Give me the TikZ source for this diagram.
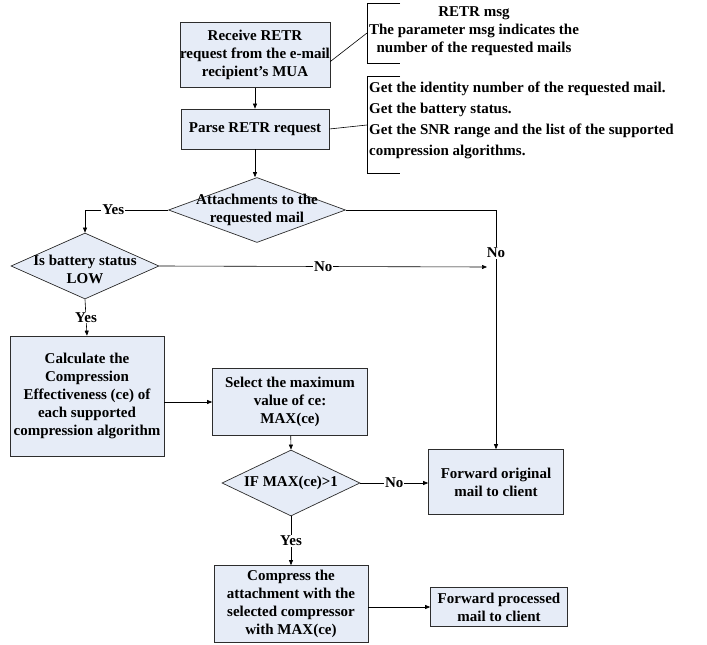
\documentclass[tikz,border=0pt]{standalone}
\usepackage{fontspec}
\setmainfont{Liberation Serif}
\usepackage{tikz}
\usetikzlibrary{positioning}
\usetikzlibrary{shapes.geometric,arrows.meta}

\definecolor{boxfill}{RGB}{230,236,247}
\definecolor{boxline}{RGB}{45,45,45}

\newcommand{\flowfont}{\fontsize{15}{18}\selectfont\bfseries}

\tikzset{
	flowbox/.style={draw=boxline, fill=boxfill, align=center, inner sep=0pt, line width=0.7pt, font=\flowfont},
	decision/.style={diamond, draw=boxline, fill=boxfill, inner sep=0pt, line width=0.7pt},
	dectext/.style={align=center, font=\flowfont, inner sep=0pt},
	flow/.style={draw=black, line width=0.6pt, -{Triangle[length=5pt,width=4pt]}},
	link/.style={draw=black, line width=0.6pt},
	answer/.style={fill=white, inner sep=1pt, font=\flowfont},
	note/.style={font=\flowfont, inner sep=0pt}
}

\begin{document}
\begin{tikzpicture}[x=1pt,y=-1pt]
	
	\useasboundingbox (0,0) rectangle (707,645);
	
	% main column of the flow chart
	\node[flowbox, minimum width=148pt, minimum height=65pt] (Recv) at (255,55)
		{Receive RETR\\request from the e-mail\\recipient’s MUA};
	\node[flowbox, minimum width=148pt, minimum height=40pt] (Parse) at (255,129)
		{Parse RETR request};
	\node[decision, minimum width=177pt, minimum height=65pt,
		label={[dectext]center:Attachments to the\\requested mail}] (Attach) at (257,210) {};
	\node[decision, minimum width=148pt, minimum height=66pt,
		label={[dectext, yshift=-3pt]center:Is battery status\\LOW}] (Battery) at (85,266) {};
	
	% lower part
	\node[flowbox, minimum width=154pt, minimum height=120pt] (Calc) at (87,396)
		{Calculate the\\Compression\\Effectiveness (ce) of\\each supported\\compression algorithm};
	\node[flowbox, minimum width=155pt, minimum height=67pt] (Select) at (290,402)
		{Select the maximum\\value of ce:\\MAX(ce)};
	\node[decision, minimum width=138pt, minimum height=66pt,
		label={[dectext]center:IF MAX(ce)>1}] (IfMax) at (291,483) {};
	\node[flowbox, minimum width=135pt, minimum height=65pt] (FwdOrig) at (496,482)
		{Forward original\\mail to client};
	\node[flowbox, minimum width=154pt, minimum height=77pt] (Compress) at (291,604)
		{Compress the\\attachment with the\\selected compressor\\with MAX(ce)};
	\node[flowbox, minimum width=137pt, minimum height=39pt] (FwdProc) at (499,607)
		{Forward processed\\mail to client};
	
	% side notes, with their brackets
	\node[note, align=center] (NoteA) at (474,31)
		{RETR msg\\The parameter msg indicates the\\number of the requested mails};
	\node[note, align=left, anchor=west, font=\fontsize{15}{21}\selectfont\bfseries] (NoteB) at (369,120)
		{Get the identity number of the requested mail.\\Get the battery status.\\Get the SNR range and the list of the supported\\compression algorithms.};
	\coordinate (BrA) at (367,33);
	\coordinate (BrB) at (367,125);
	\draw[link] (400,3) -- (367,3) -- (367,63) -- (400,63);
	\draw[link] (400,76) -- (367,76) -- (367,173) -- (400,173);
	\draw[link] (Recv.-5) -- (BrA);
	\draw[link] (Parse.east) -- (BrB);
	
	% connectors
	\coordinate (Join) at (487,267);
	\draw[flow] (Recv) -- (Parse);
	\draw[flow] (Parse.south) -- (Parse.south |- Attach.north);
	\draw[flow] (Attach.west) -| node[answer, pos=0.33] {Yes} (Battery.north);
	\draw[flow] (Attach.east) -| node[answer, pos=0.59] {No} (FwdOrig.north);
	\draw[flow] (Battery.east) -- node[answer] {No} (Join);
	\draw[flow] (Battery.south) -- node[answer] {Yes} (Calc.north);
	\draw[flow] (Calc.east |- Select) -- (Select.west);
	\draw[flow] (Select) -- (IfMax.north);
	\draw[flow] (IfMax.east) -- node[answer] {No} (FwdOrig.west |- IfMax.east);
	\draw[flow] (IfMax.south) -- node[answer] {Yes} (Compress.north);
	\draw[flow] (Compress.east |- FwdProc) -- (FwdProc.west);
	
\end{tikzpicture}
\end{document}
